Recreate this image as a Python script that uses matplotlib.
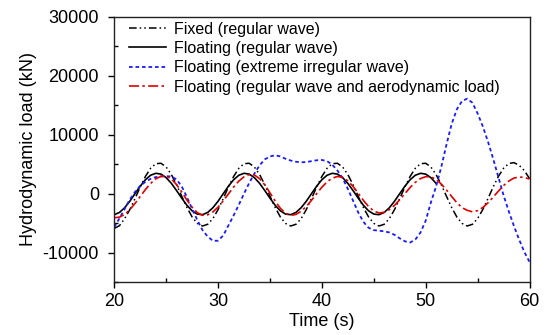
import numpy as np
import matplotlib
matplotlib.use("Agg")
import matplotlib.pyplot as plt
from matplotlib.ticker import MultipleLocator

plt.rcParams['font.family'] = ['Liberation Sans', 'DejaVu Sans']
plt.rcParams['axes.unicode_minus'] = False

# Time grid values (s), read at 0.5 s steps
time_full = [20.0 + 0.5 * i for i in range(81)]
time_solid = time_full[:63]  # floating regular wave curve ends near 51 s

fixed_regular = [
    -5900, -5450, -4240, -2710, -840, 1120, 2910, 4290, 5070, 5140, 4500, 3230, 1500, -450, -2360, -3970, -5060,
    -5500, -5210, -4240, -2710, -840, 1120, 2910, 4290, 5070, 5140, 4500, 3230, 1500, -450, -2360, -3970, -5060,
    -5500, -5210, -4240, -2710, -840, 1120, 2910, 4290, 5070, 5140, 4500, 3230, 1500, -450, -2360, -3970, -5060,
    -5500, -5210, -4240, -2710, -840, 1120, 2910, 4290, 5070, 5140, 4500, 3230, 1500, -450, -2360, -3970, -5060,
    -5500, -5210, -4240, -2710, -840, 1120, 2910, 4290, 5100, 5250, 4800, 3900, 2550,
]

floating_regular = [
    -3580, -3200, -2400, -1290, -10, 1260, 2350, 3110, 3440, 3300, 2700, 1730, 510, -780, -1990, -2930, -3480,
    -3580, -3200, -2400, -1290, -10, 1260, 2350, 3110, 3440, 3300, 2700, 1730, 510, -780, -1990, -2930, -3480,
    -3580, -3200, -2400, -1290, -10, 1260, 2350, 3110, 3440, 3300, 2700, 1730, 510, -780, -1990, -2930, -3480,
    -3580, -3200, -2400, -1290, -10, 1260, 2350, 3110, 3440, 3300, 2700, 1730,
]

floating_irregular = [
    -5700, -4200, -2600, -1000, 300, 1300, 2000, 2500, 2800, 2900, 2950, 2900, 2400, 1200, -600, -2600, -4500,
    -6200, -7300, -8000, -8000, -7100, -5400, -3700, -1900, 0, 1800, 3400, 4800, 5800, 6300, 6500, 6300,
    5900, 5600, 5400, 5300, 5350, 5500, 5650, 5700, 5500, 4900, 3900, 2600, 800, -1200, -3200, -4800,
    -5800, -6200, -6300, -6400, -6600, -7000, -7600, -8100, -8300, -7800, -6600, -4600, -1500, 1200, 4500, 8300,
    11800, 14300, 15700, 16100, 15400, 13600, 11400, 8800, 5900, 2800, -300, -3000, -5500, -7800, -9900, -11600,
]

floating_aero = [
    -4100, -4000, -3530, -2720, -1670, -490, 680, 1720, 2490, 2930, 2955, 2470, 1520, 260, -1100, -2330, -3240,
    -3680, -3600, -3120, -2300, -1230, -50, 1120, 2120, 2850, 3220, 3150, 2530, 1470, 120, -1270, -2500, -3350,
    -3700, -3540, -3010, -2180, -1140, 0, 1080, 1990, 2620, 2900, 2750, 2160, 1210, 40, -1160, -2210, -2960,
    -3290, -3180, -2730, -1990, -1040, 10, 1040, 1910, 2550, 2870, 2830, 2390, 1620, 610, -490, -1540, -2390,
    -2840, -3100, -2890, -2360, -1570, -600, 410, 1360, 2120, 2630, 2800, 2750, 2450,
]

labels = [
    "Fixed (regular wave)",
    "Floating (regular wave)",
    "Floating (extreme irregular wave)",
    "Floating (regular wave and aerodynamic load)",
]

fig = plt.figure(figsize=(5.46, 3.35), dpi=100)
ax = fig.add_axes([0.2093, 0.1582, 0.7605, 0.7919])

ax.plot(time_full, fixed_regular, color='black', lw=1.1,
        dashes=(5, 2, 1, 2, 1, 2), label=labels[0])
ax.plot(time_solid, floating_regular, color='black', lw=1.2,
        linestyle='-', label=labels[1])
ax.plot(time_full, floating_irregular, color='#1a1aff', lw=1.3,
        dashes=(2, 1.6), label=labels[2])
ax.plot(time_full, floating_aero, color='#e00000', lw=1.2,
        dashes=(6, 2, 1.5, 2), label=labels[3])

ax.set_xlim(20, 60)
ax.set_ylim(-15000, 30000)
ax.xaxis.set_major_locator(MultipleLocator(10))
ax.xaxis.set_minor_locator(MultipleLocator(5))
ax.yaxis.set_major_locator(MultipleLocator(10000))
ax.yaxis.set_minor_locator(MultipleLocator(5000))
ax.tick_params(which='major', direction='out', length=4, width=1, labelsize=13)
ax.tick_params(axis='y', which='major', pad=7)
ax.tick_params(axis='x', which='major', pad=4)
ax.tick_params(which='minor', direction='in', length=3, width=1)
for s in ax.spines.values():
    s.set_linewidth(1.0)
    s.set_color('#222222')

ax.set_xlabel("Time (s)", fontsize=13, labelpad=2)
ax.set_ylabel("Hydrodynamic load (kN)", fontsize=13, labelpad=4)

leg = ax.legend(loc='upper left', frameon=False, fontsize=11.5, handlelength=2.3,
                handletextpad=0.5, labelspacing=0.28, borderaxespad=0.0,
                borderpad=0.3, bbox_to_anchor=(0.025, 1.0))

fig.savefig("out.png", dpi=100)
